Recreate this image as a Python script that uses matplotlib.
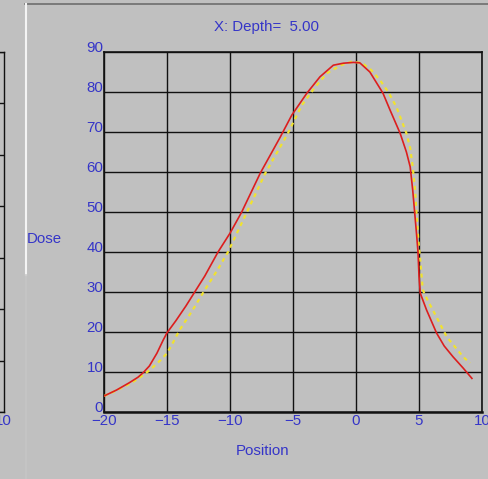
import matplotlib
matplotlib.use("Agg")
import matplotlib.pyplot as plt
from matplotlib.lines import Line2D

plt.rcParams['font.family'] = ['Liberation Sans', 'DejaVu Sans']

# ---- data ----
measured_x = [-20, -19, -18, -17.3, -16.9, -16.4, -15.8, -15.3, -15, -14.3, -13.5, -12.8, -12,
              -10.95, -10, -9.07, -7.6, -6.0, -5.1, -3.9, -2.86, -1.8, -1.0, -0.2, 0.3, 1.1,
              2.14, 2.7, 3.5, 4.0, 4.3, 4.5, 4.8, 4.92, 5.0, 5.1, 5.6, 6.4, 7.0, 7.7, 8.5, 9.2]
measured_y = [4, 5.5, 7.3, 8.7, 9.8, 11.5, 14.7, 18, 19.8, 22.8, 26.5, 30, 34,
              40, 44.7, 50, 59.7, 68.8, 74.2, 79.7, 83.8, 86.7, 87.2, 87.4, 87.3, 85,
              79.7, 75.5, 69.7, 65, 61.3, 55.5, 44.7, 40, 34, 29.7, 25.5, 19.7, 16.5, 13.8, 11, 8.4]

calc_x = [-20, -19, -18, -17.3, -16.35, -15.5, -15.0, -14.5, -14.0, -13, -12.1, -11, -10.16,
          -8.7, -7.2, -5.4, -4.3, -3.3, -2.3, -1.2, -0.3, 0.5, 1.2, 1.9, 2.6, 3.2, 3.6, 4.0,
          4.3, 4.5, 4.7, 4.8, 4.95, 5.1, 5.3, 5.7, 6.1, 7.2, 8.5, 9.05]
calc_y = [4, 5.4, 7, 8.3, 10.5, 13, 14.7, 17.5, 20.5, 25.3, 30, 35.5, 40,
          49.7, 59.7, 69.7, 76.7, 81, 84.7, 86.7, 87.6, 87.2, 85.5, 83, 79.8, 76.3, 73, 69.7,
          66, 61.3, 55, 49.7, 43, 38, 30.5, 27.8, 25.5, 18.8, 13.8, 12.2]

x_ticks = [-20, -15, -10, -5, 0, 5, 10]
y_ticks = [0, 10, 20, 30, 40, 50, 60, 70, 80, 90]
title_text = "X: Depth=  5.00"
x_label = "Position"
y_label = "Dose"

# ---- style ----
W, H = 489, 479
DPI = 100
BG = '#c0c0c0'
BLUE = '#3535c8'
FS = 10.8

fig = plt.figure(figsize=(W / DPI, H / DPI), dpi=DPI, facecolor=BG)

def fx(px):
    return px / W

def fy(py):
    return 1 - py / H

# partial neighbouring panel at far left
axl = fig.add_axes([fx(-200), fy(412), fx(203.5), fy(52) - fy(412)])
axl.set_facecolor(BG)
axl.set_xlim(0, 10)
axl.set_ylim(0, 7)
axl.set_yticks(range(8))
axl.set_xticks([10])
axl.set_xticklabels(['10'], color=BLUE, fontsize=FS)
axl.set_yticklabels([])
axl.tick_params(length=0, pad=1.5)
axl.grid(True, axis='y', color='#111111', lw=1.0)
for s in axl.spines.values():
    s.set_color('#111111')
    s.set_linewidth(1.0)

# main axes
ax = fig.add_axes([fx(104), fy(412), fx(482) - fx(104), fy(52) - fy(412)])
ax.set_facecolor(BG)
ax.plot(calc_x, calc_y, color='#f0e230', lw=1.6, ls=(0, (1.8, 1.8)), zorder=3)
ax.plot(measured_x, measured_y, color='#dc1e1e', lw=1.2, zorder=4)
ax.set_xlim(-20, 10)
ax.set_ylim(0, 90)
ax.set_xticks(x_ticks)
ax.set_yticks(y_ticks)
ax.set_xticklabels([('\u2212' + str(-v)) if v < 0 else str(v) for v in x_ticks],
                   color=BLUE, fontsize=FS)
ax.set_yticklabels([str(v) for v in y_ticks], color=BLUE, fontsize=FS)
for lbl in ax.get_yticklabels():
    lbl.set_verticalalignment('baseline')
ax.tick_params(axis='x', length=0, pad=1.5)
ax.tick_params(axis='y', length=0, pad=0.5)
ax.grid(True, color='#111111', lw=1.0)
ax.set_axisbelow(True)
for s in ax.spines.values():
    s.set_color('#111111')
    s.set_linewidth(1.2)
ax.spines['bottom'].set_linewidth(1.8)

# texts
fig.text(fx(267), fy(27), title_text, color=BLUE, fontsize=FS, ha='center', va='center')
fig.text(fx(263), fy(451), x_label, color=BLUE, fontsize=FS, ha='center', va='center')
fig.text(fx(27), fy(239), y_label, color=BLUE, fontsize=FS, ha='left', va='center')

# window decorations
fig.add_artist(Line2D([fx(25), fx(489)], [fy(3.5), fy(3.5)], color='#6e6e6e', lw=1.2))
fig.add_artist(Line2D([fx(26), fx(26)], [fy(4), fy(275)], color='#f4f4f4', lw=1.5))
fig.add_artist(Line2D([fx(26), fx(26)], [fy(275), fy(479)], color='#c6c6c6', lw=1.2))

fig.savefig('out.png', dpi=DPI, facecolor=BG)
